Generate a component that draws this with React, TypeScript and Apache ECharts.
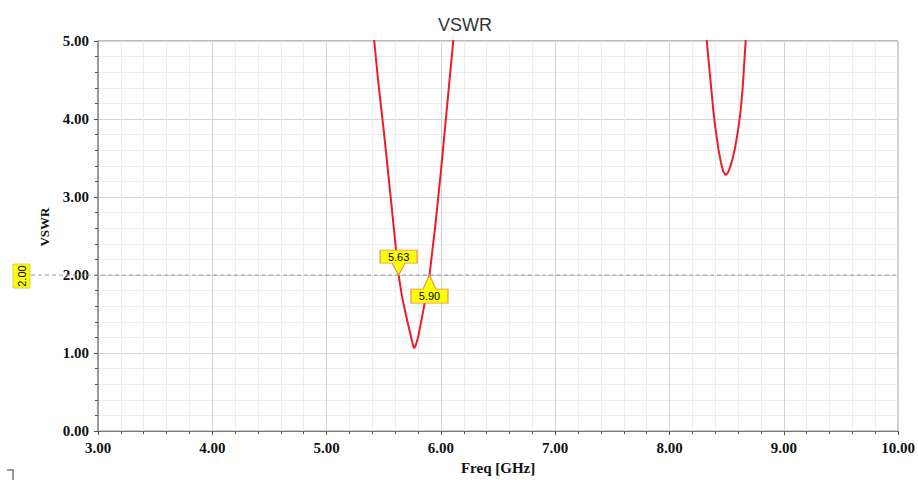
import React, { useEffect, useRef } from "react";
import * as echarts from "echarts";

// Frequency sweep (GHz) and VSWR; null marks the gap between the two dips
const freqGHz: number[] = [
  5.3, 5.35, 5.4, 5.45, 5.5, 5.55, 5.6, 5.63, 5.66, 5.7, 5.73, 5.75, 5.766, 5.78, 5.8, 5.84, 5.87, 5.9, 5.95, 6.0,
  6.05, 6.1, 6.15, 6.2,
  7.2,
  8.2, 8.25, 8.3, 8.326, 8.35, 8.384, 8.4, 8.427, 8.45, 8.47, 8.491, 8.51, 8.53, 8.55, 8.572, 8.6, 8.622, 8.64,
  8.666, 8.69, 8.72,
];
const vswrValues: (number | null)[] = [
  6.9, 6.0, 5.25, 4.5, 3.85, 3.15, 2.43, 2.0, 1.72, 1.45, 1.26, 1.14, 1.06, 1.1, 1.2, 1.5, 1.74, 2.0, 2.62, 3.33,
  4.1, 4.88, 5.62, 6.4,
  null,
  7.1, 6.2, 5.42, 5.0, 4.62, 4.1, 3.9, 3.62, 3.44, 3.33, 3.28, 3.31, 3.38, 3.48, 3.62, 3.86, 4.1, 4.4,
  5.0, 5.6, 6.4,
];

const markerFreqs: number[] = [5.63, 5.9];
const markerLabels: string[] = ["5.63", "5.90"];
const refLevel = 2.0;
const refLabel = "2.00";

const SERIF = "'Liberation Serif', 'Times New Roman', serif";
const SANS = "'Liberation Sans', Arial, sans-serif";

export default function App() {
  const ref = useRef<HTMLDivElement>(null);

  useEffect(() => {
    if (!ref.current) return;
    const chart = echarts.init(ref.current, undefined, { renderer: "svg" });

    const downPath = "path://M0,0L37,0L37,13L25,13L18.5,25L12,13L0,13Z";
    const upPath = "path://M18.5,0L25,14L37,14L37,28L0,28L0,14L12,14Z";

    const data = freqGHz.map((f, i) => [f, vswrValues[i]]);

    chart.setOption({
      animation: false,
      backgroundColor: "#ffffff",
      title: {
        text: "VSWR",
        left: 433,
        top: 11,
        textStyle: { fontFamily: SANS, fontSize: 18, fontWeight: "normal", color: "#333333" },
      },
      grid: {
        left: 98,
        top: 41,
        width: 802,
        height: 394,
        show: true,
        borderColor: "#7a7a7a",
        borderWidth: 1,
      },
      xAxis: {
        type: "value",
        min: 3,
        max: 10,
        interval: 1,
        name: "Freq [GHz]",
        nameLocation: "middle",
        nameGap: 26,
        nameTextStyle: { fontFamily: SERIF, fontWeight: "bold", fontSize: 15, color: "#111" },
        axisLine: { show: true, onZero: false, lineStyle: { color: "#7a7a7a", width: 1 } },
        axisTick: { show: true, length: 4, lineStyle: { color: "#555" } },
        minorTick: { show: true, splitNumber: 5, length: 3, lineStyle: { color: "#555" } },
        axisLabel: {
          margin: 9,
          fontFamily: SERIF,
          fontWeight: "bold",
          fontSize: 15,
          color: "#111",
          formatter: (v: number) => v.toFixed(2),
        },
        splitLine: { show: true, lineStyle: { color: "#d4d4d4", width: 1 } },
        minorSplitLine: { show: true, lineStyle: { color: "#ededed", width: 1 } },
      },
      yAxis: {
        type: "value",
        min: 0,
        max: 5,
        interval: 1,
        name: "VSWR",
        nameLocation: "middle",
        nameGap: 47,
        nameTextStyle: {
          fontFamily: SERIF,
          fontWeight: "bold",
          fontSize: 13,
          color: "#111",
          padding: [0, 0, 0, 18],
        },
        axisLine: { show: true, lineStyle: { color: "#8a8a8a", width: 1.5 } },
        axisTick: { show: true, length: 4, lineStyle: { color: "#555" } },
        minorTick: { show: true, splitNumber: 5, length: 3, lineStyle: { color: "#555" } },
        axisLabel: {
          margin: 9,
          fontFamily: SERIF,
          fontWeight: "bold",
          fontSize: 15,
          color: "#111",
          formatter: (v: number) => v.toFixed(2),
        },
        splitLine: { show: true, lineStyle: { color: "#d4d4d4", width: 1 } },
        minorSplitLine: { show: true, lineStyle: { color: "#ededed", width: 1 } },
      },
      series: [
        {
          type: "line",
          name: "VSWR",
          data,
          showSymbol: false,
          symbol: "none",
          connectNulls: false,
          smooth: false,
          clip: true,
          lineStyle: { color: "#ee1c24", width: 2 },
          z: 3,
          markPoint: {
            silent: true,
            data: markerFreqs.map((f, i) => ({
              coord: [f, refLevel],
              value: markerLabels[i],
              symbol: i === 0 ? downPath : upPath,
              symbolSize: i === 0 ? [37, 25] : [37, 28],
              symbolOffset: i === 0 ? [0, -12.5] : [0, 14],
              label: {
                show: true,
                position: "inside",
                offset: i === 0 ? [0, -6] : [0, 7],
                formatter: markerLabels[i],
                fontFamily: SANS,
                fontSize: 11,
                color: "#000",
              },
            })),
            itemStyle: { color: "#ffff00", borderColor: "#f0885a", borderWidth: 1 },
            z: 5,
          },
        },
      ],
    });

    const y2 = chart.convertToPixel({ yAxisIndex: 0 }, refLevel) as number;
    const xRight = chart.convertToPixel({ xAxisIndex: 0 }, 10) as number;

    chart.setOption({
      graphic: [
        {
          type: "line",
          z: 2,
          shape: { x1: 31, y1: y2, x2: xRight, y2: y2 },
          style: { stroke: "#9a9a9a", lineWidth: 1, lineDash: [4, 3] },
        },
        {
          type: "rect",
          z: 4,
          shape: { x: 13, y: y2 - 11, width: 17, height: 24 },
          style: { fill: "#ffff00", stroke: "#d8c860", lineWidth: 1 },
        },
        {
          type: "text",
          z: 5,
          x: 22,
          y: y2 + 1,
          rotation: Math.PI / 2,
          style: {
            text: refLabel,
            fontFamily: SANS,
            fontSize: 11,
            fill: "#000",
            align: "center",
            verticalAlign: "middle",
          },
        },
        {
          type: "polyline",
          z: 2,
          shape: { points: [[7, 470], [13, 470], [13, 480]] },
          style: { stroke: "#777", lineWidth: 1.5, fill: "none" },
        },
      ],
    });

    return () => chart.dispose();
  }, []);

  return (
    <div
      ref={ref}
      style={{ position: "fixed", left: 0, top: 0, width: 918, height: 480, background: "#fff" }}
    />
  );
}
